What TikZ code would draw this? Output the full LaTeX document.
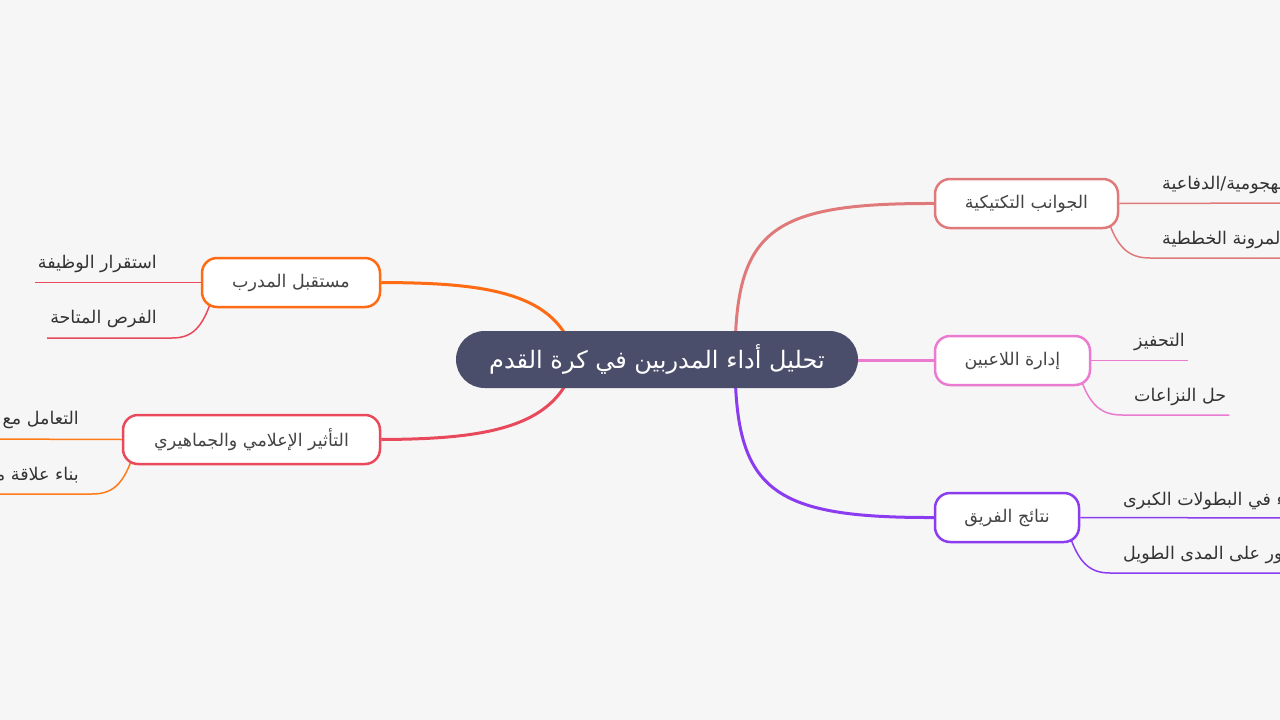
\documentclass[tikz,border=0pt]{standalone}
\usepackage{fontspec}
\newfontfamily\arabicfont[Script=Arabic]{DejaVu Sans}
\TeXXeTstate=1
\definecolor{bgc}{HTML}{F6F6F6}
\definecolor{centerc}{HTML}{4B4E6A}
\definecolor{salmonc}{HTML}{E07A7A}
\definecolor{pinkc}{HTML}{EA7BD0}
\definecolor{purplec}{HTML}{8B3CF0}
\definecolor{orangec}{HTML}{FF6B12}
\definecolor{redc}{HTML}{E8495B}
\definecolor{leaforange}{HTML}{FF7A1A}
\definecolor{nodetext}{HTML}{444444}
\definecolor{leaftext}{HTML}{333333}
\pgfdeclarelayer{bg}
\pgfdeclarelayer{bgfill}
\pgfsetlayers{bgfill,bg,main}
\tikzset{
  rootbox/.style={fill=centerc, text=white, rounded corners=28.5pt, minimum width=402pt, minimum height=57pt, inner sep=0pt, font=\arabicfont\fontsize{24}{28}\selectfont},
  branchbox/.style={fill=white, line width=2.5pt, rounded corners=15pt, minimum height=49pt, inner sep=0pt, text=nodetext, font=\arabicfont\fontsize{17.5}{21}\selectfont},
  leaftxt/.style={inner sep=0pt, text=leaftext, font=\arabicfont\fontsize{17.5}{21}\selectfont},
  branchline/.style={line width=3pt},
  leafline/.style={line width=1.5pt},
}
\begin{document}
\begin{tikzpicture}[x=1pt,y=-1pt]
\useasboundingbox (0,0) rectangle (1280,720);
\begin{pgfonlayer}{bgfill}
\fill[bgc] (0,0) rectangle (1280,720);
\end{pgfonlayer}
\clip (0,0) rectangle (1280,720);

% root
\node[rootbox] (c) at (657,359.5) {\raisebox{-2pt}{\beginR تحليل أداء المدربين في كرة القدم\endR}};

% branch nodes
\node[branchbox, draw=salmonc, minimum width=183pt] (t) at (1026.5,203.5) {\raisebox{-2pt}{\beginR الجوانب التكتيكية\endR}};
\node[branchbox, draw=pinkc, minimum width=155pt] (p) at (1012.5,360.5) {\raisebox{-2pt}{\beginR إدارة اللاعبين\endR}};
\node[branchbox, draw=purplec, minimum width=144pt] (u) at (1007,517.5) {\raisebox{-2pt}{\beginR نتائج الفريق\endR}};
\node[branchbox, draw=orangec, minimum width=178pt] (o) at (291,282.5) {\raisebox{-2pt}{\beginR مستقبل المدرب\endR}};
\node[branchbox, draw=redc, minimum width=257pt] (r) at (251.5,439.5) {\raisebox{-2pt}{\beginR التأثير الإعلامي والجماهيري\endR}};

% leaf text nodes
\node[leaftxt, anchor=west] (t1) at (1162,185) {\beginR الاستراتيجيات الهجومية/الدفاعية\endR};
\node[leaftxt, anchor=west] (t2) at (1162,240) {\beginR المرونة الخططية\endR};
\node[leaftxt, anchor=west] (p1) at (1134,342) {\beginR التحفيز\endR};
\node[leaftxt, anchor=west] (p2) at (1134,397) {\beginR حل النزاعات\endR};
\node[leaftxt, anchor=west] (u1) at (1123,499) {\beginR الأداء في البطولات الكبرى\endR};
\node[leaftxt, anchor=west] (u2) at (1123,555) {\beginR التطور على المدى الطويل\endR};
\node[leaftxt, anchor=east] (o1) at (157,264) {\beginR استقرار الوظيفة\endR};
\node[leaftxt, anchor=east] (o2) at (157,319) {\beginR الفرص المتاحة\endR};
\node[leaftxt, anchor=east] (r1) at (79,420) {\beginR التعامل مع الإعلام\endR};
\node[leaftxt, anchor=east] (r2) at (79,476) {\beginR بناء علاقة مع الجماهير\endR};

% free ends / elbows
\coordinate (rs) at ([xshift=78pt]c.center);
\coordinate (ls) at ([xshift=-82pt]c.center);
\coordinate (t1e) at (1300,203);
\coordinate (t2k) at (1150,258);
\coordinate (t2e) at (1300,258);
\coordinate (p1e) at ([xshift=3pt]p1.east |- p.east);
\coordinate (p2k) at (1122,415);
\coordinate (p2e) at ([xshift=3pt]p2.east |- p2k);
\coordinate (u1e) at (1300,518);
\coordinate (u2k) at (1110,573);
\coordinate (u2e) at (1300,573);
\coordinate (o1e) at ([xshift=-3pt]o1.west |- o.west);
\coordinate (o2k) at (172,338);
\coordinate (o2e) at ([xshift=-3pt]o2.west |- o2k);
\coordinate (r1e) at (-20,439);
\coordinate (r2k) at (92,494);
\coordinate (r2e) at (-20,494);

\begin{pgfonlayer}{bg}
% branch lines
\draw[branchline, salmonc] (rs) .. controls (735,230) and (770,203) .. (t.west);
\draw[branchline, pinkc] (c.east |- p.west) -- (p.west);
\draw[branchline, purplec] (rs) .. controls (735,490) and (770,518) .. (u.west);
\draw[branchline, orangec] (ls) .. controls (560,290) and (480,283) .. (o.east);
\draw[branchline, redc] (ls) .. controls (560,430) and (480,439) .. (r.east);

% leaf lines
\draw[leafline, salmonc] (t.east) -- (t1e);
\draw[leafline, salmonc] ([shift={(-12pt,12pt)}]t.south east) .. controls ([shift={(-2pt,-20pt)}]t.south east) and ([xshift=-20pt]t2k) .. (t2k) -- (t2e);
\draw[leafline, pinkc] (p.east) -- (p1e);
\draw[leafline, pinkc] ([shift={(-12pt,12pt)}]p.south east) .. controls ([shift={(-2pt,-20pt)}]p.south east) and ([xshift=-20pt]p2k) .. (p2k) -- (p2e);
\draw[leafline, purplec] (u.east) -- (u1e);
\draw[leafline, purplec] ([shift={(-12pt,12pt)}]u.south east) .. controls ([shift={(-2pt,-20pt)}]u.south east) and ([xshift=-20pt]u2k) .. (u2k) -- (u2e);
\draw[leafline, redc] (o.west) -- (o1e);
\draw[leafline, redc] ([shift={(12pt,12pt)}]o.south west) .. controls ([shift={(2pt,-20pt)}]o.south west) and ([xshift=20pt]o2k) .. (o2k) -- (o2e);
\draw[leafline, leaforange] (r.west) -- (r1e);
\draw[leafline, leaforange] ([shift={(12pt,12pt)}]r.south west) .. controls ([shift={(2pt,-20pt)}]r.south west) and ([xshift=20pt]r2k) .. (r2k) -- (r2e);
\end{pgfonlayer}
\end{tikzpicture}
\end{document}
